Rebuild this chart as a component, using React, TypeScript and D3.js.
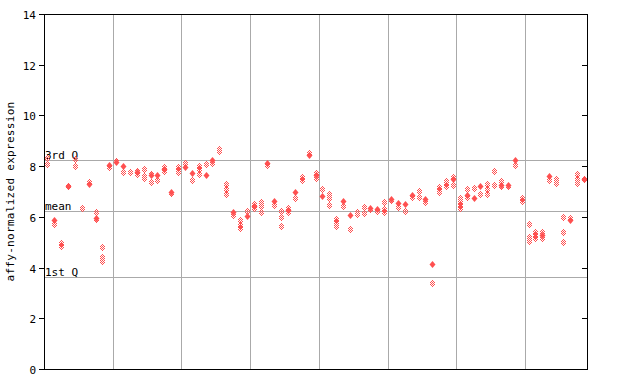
import React from "react";
import * as d3 from "d3";

// per-sample highlighted (filled) value, null when absent
const filledValues: (number | null)[] = [
  null, 5.89, null, 7.23, null, null, 7.31, 5.97, null, 8.06,
  8.15, 8.02, null, 7.76, null, 7.67, 7.64, 7.88, 6.97, null,
  7.98, 7.72, null, 7.66, 8.24, null, null, 6.2, null, 6.03,
  6.43, null, 8.11, 6.64, null, 6.27, 6.99, null, 8.43, 7.64,
  6.84, null, null, 6.64, 6.09, null, null, 6.36, 6.32, null,
  6.72, 6.56, 6.49, 6.85, null, 6.7, 4.15, null, null, 7.48,
  null, 6.88, 6.76, 7.23, null, null, 7.26, 7.26, 8.26, null,
  null, null, 5.3, 7.62, null, null, 5.88, null, 7.48,
];

// per-sample replicate values (hatched markers)
const replicateValues: number[][] = [
  [8.31, 8.07], [5.71], [4.97, 4.85], [7.2], [8.28, 8.0], [6.35], [7.36], [6.2, 5.9], [4.8, 4.4, 4.27], [7.98],
  [8.21], [7.75], [7.77], [7.8, 7.7], [7.87, 7.62, 7.55], [7.7, 7.36], [7.45], [7.98, 7.8], [6.93], [7.98, 7.85, 7.75],
  [8.14], [7.44], [8.0, 7.88, 7.7], [8.07], [8.14], [8.69, 8.6], [7.28, 7.1, 6.9], [6.07], [5.88, 5.68, 5.56], [6.23],
  [6.5, 6.35], [6.59, 6.43, 6.18], [8.05], [6.45], [6.23, 5.98, 5.63], [6.33, 6.18], [6.73], [7.56, 7.47], [8.53], [7.74, 7.55],
  [7.1], [6.89, 6.73, 6.45], [5.9, 5.8, 5.63], [6.43], [5.51], [6.2, 6.1], [6.4, 6.14], [6.3], [6.22], [6.59, 6.3, 6.18],
  [6.68], [6.38], [6.24], [6.8], [7.01, 6.77], [6.57], [3.38], [7.17, 7.07, 6.97], [7.41, 7.32, 7.23], [7.57, 7.26],
  [6.73, 6.6, 6.48, 6.36], [7.1, 6.8], [7.12], [6.9], [7.3, 7.09, 6.9], [7.81, 7.26], [7.42, 7.22], [7.22], [8.04], [6.73, 6.63],
  [5.71, 5.22, 5.05], [5.42, 5.28, 5.15], [5.4, 5.15], [7.44], [7.49, 7.34], [5.98, 5.39, 5.0], [5.95], [7.69, 7.5, 7.32], [7.5],
];

const yTicks = [0, 2, 4, 6, 8, 10, 12, 14];
const refLines = [
  { label: "3rd Q", value: 8.24 },
  { label: "mean", value: 6.23 },
  { label: "1st Q", value: 3.63 },
];
const gridEvery = 10;

const W = 640;
const H = 384;
const L = 44;
const R = 587;
const T = 14;
const B = 369;
const RED = "#ff5050";
const GRID = "#aaaaaa";
const FONT = "'DejaVu Sans Mono', monospace";

export default function App() {
  const samples = d3.range(replicateValues.length);
  const x = d3.scaleBand<number>().domain(samples).range([L, R]);
  const y = d3.scaleLinear().domain([0, 14]).range([B, T]);
  const cx = (i: number) => Math.round((x(i) as number) + x.bandwidth() / 2);

  const hatchPix: [number, number][] = [];
  for (let dx = -3; dx <= 3; dx++)
    for (let dy = -3; dy <= 3; dy++)
      if (Math.abs(dx) + Math.abs(dy) <= 3 && Math.abs(dx + dy) % 2 === 1 && Math.abs(dx) <= 2)
        hatchPix.push([dx, dy]);

  const gridXs = samples.filter((i) => i > 0 && i % gridEvery === 0).map((i) => Math.round(x(i) as number) + 0.5);

  return (
    <div style={{ position: "fixed", left: 0, top: 0 }}>
      <svg width={W} height={H} style={{ display: "block", background: "#fff" }}>
        {/* grid */}
        {gridXs.map((gx, k) => (
          <line key={"gx" + k} x1={gx} x2={gx} y1={T} y2={B} stroke={GRID} strokeWidth={1} />
        ))}
        {refLines.map((r) => {
          const yy = Math.round(y(r.value)) + 0.5;
          return (
            <g key={r.label}>
              <line x1={L} x2={R} y1={yy} y2={yy} stroke={GRID} strokeWidth={1} />
              <text x={L + 1} y={yy - 2} fontFamily={FONT} fontSize={11} fill="#000">
                {r.label}
              </text>
            </g>
          );
        })}
        {/* replicate markers */}
        {replicateValues.map((vals, i) =>
          vals.map((v, j) => {
            const px = cx(i);
            const py = Math.round(y(v));
            return (
              <g key={`h${i}-${j}`}>
                {hatchPix.map(([dx, dy], k) => (
                  <rect key={k} x={px + dx} y={py + dy} width={1} height={1} fill={RED} shapeRendering="crispEdges" />
                ))}
              </g>
            );
          })
        )}
        {/* highlighted markers */}
        {filledValues.map((v, i) => {
          if (v === null) return null;
          const px = cx(i) + 0.5;
          const py = Math.round(y(v)) + 0.5;
          return (
            <polygon
              key={"f" + i}
              points={`${px},${py - 3.6} ${px + 3},${py} ${px},${py + 3.6} ${px - 3},${py}`}
              fill={RED}
            />
          );
        })}
        {/* frame */}
        <rect x={L + 0.5} y={T + 0.5} width={R - L} height={B - T} fill="none" stroke="#000" strokeWidth={1} />
        {/* left axis ticks & labels */}
        {yTicks.map((t) => {
          const yy = Math.round(y(t)) + 0.5;
          return (
            <g key={"yt" + t}>
              <line x1={L - 5} x2={L} y1={yy} y2={yy} stroke="#000" />
              <line x1={R - 5} x2={R} y1={yy} y2={yy} stroke="#000" />
              <text x={L - 8} y={yy + 4} textAnchor="end" fontFamily={FONT} fontSize={11} fill="#000">
                {t}
              </text>
            </g>
          );
        })}
        <text
          transform={`translate(14,${(T + B) / 2}) rotate(-90)`}
          textAnchor="middle"
          fontFamily={FONT}
          fontSize={11}
          letterSpacing={0.3}
          fill="#000"
        >
          affy-normalized expression
        </text>
      </svg>
    </div>
  );
}
